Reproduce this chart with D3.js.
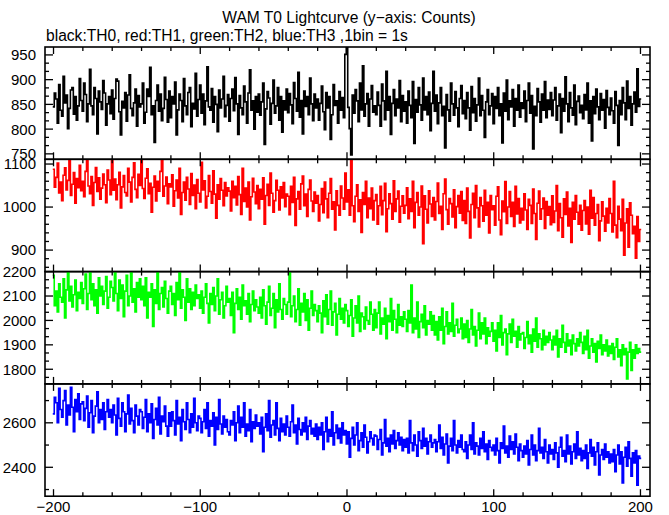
<!DOCTYPE html>
<html><head><meta charset="utf-8">
<script src="https://cdn.jsdelivr.net/npm/d3@7"></script>
<style>
body{margin:0;background:#fff}
svg{display:block}
text{font-family:"Liberation Sans",Arial,Helvetica,sans-serif;font-size:15px;fill:#000}
text.hdr{font-size:15.6px}
</style>
</head><body>
<script>
// ---- data: counts per 1 s bin, x = -200 .. 200 ----
const binStart = -200;
const th0 = [
845,873,861,812,890,838,826,907,853,869,801,842,879,884,830,866,818,847,902,858,
836,893,870,815,851,921,847,829,884,862,790,877,855,840,898,873,808,851,866,831,
879,820,862,901,897,835,788,856,843,874,816,869,910,842,827,853,881,806,868,845,
851,893,812,834,881,866,925,829,847,773,858,889,836,871,817,842,905,860,814,877,
823,866,851,895,788,839,871,858,815,902,847,829,874,884,805,852,841,913,826,860,
889,832,871,809,857,926,845,838,882,814,866,850,795,879,843,861,907,825,848,870,
816,862,881,837,904,851,789,868,843,829,887,855,812,873,920,838,857,800,866,834,
871,828,855,893,769,841,876,863,810,852,899,832,847,884,818,866,794,857,839,881,
833,872,849,811,894,862,836,915,824,858,790,877,846,866,829,903,851,817,871,843,
861,818,852,887,835,799,874,843,866,779,829,890,848,857,812,876,838,864,823,951,
966,844,801,748,869,832,880,857,815,893,839,928,826,851,872,806,861,888,834,847,
829,875,848,806,891,857,819,917,838,866,789,852,880,827,861,843,898,815,868,836,
855,812,877,848,823,896,771,860,834,884,849,818,903,839,866,829,875,797,852,917,
836,869,811,853,884,827,846,762,870,839,816,893,851,828,876,843,805,862,888,831,
858,821,874,843,798,886,833,862,816,849,903,827,868,838,783,855,880,829,847,872,
811,866,842,884,827,851,772,873,836,899,819,857,845,880,806,862,838,889,824,853,
842,877,815,858,893,832,868,760,846,827,882,855,814,871,838,896,823,859,840,874,
827,859,884,818,847,871,793,862,836,906,851,815,874,843,828,889,809,856,867,833,
848,821,870,839,893,812,857,776,866,831,881,845,819,872,838,860,802,878,844,829,
863,837,812,876,848,767,858,829,884,853,819,897,842,866,808,851,875,834,922,846,
861];
const th1 = [
1088,1046,1069,1102,1033,1058,1015,1074,1091,1040,1062,1110,1027,1053,1080,1009,1066,1045,1097,1038,
1060,1024,1083,1115,1049,1031,1071,1004,1057,1092,1036,1068,1018,1044,1077,1052,1010,1086,1063,1029,
1112,1039,1065,1017,1052,1081,998,1047,1073,1034,1026,1090,1058,1012,1069,1103,1041,1022,1076,1050,
1116,1043,1020,1067,1089,1031,1055,988,1046,1072,1014,1060,1037,1083,1114,1025,1049,1070,1008,1054,
1047,1075,1002,1038,1063,1021,1090,983,1034,1058,1016,1069,1042,1006,1078,1027,1051,996,1064,1032,
1012,1104,1040,1061,998,1025,1073,1036,1009,1084,1030,974,1052,1018,1066,1039,1003,1057,1026,1045,
1037,991,1060,1022,1048,1005,1071,1029,983,1090,1013,1044,1000,1058,970,1024,1067,1035,1008,1050,
996,1041,1018,1068,960,1027,1053,1004,1079,1032,988,1015,1062,1039,993,1047,1021,1057,1001,1030,
1025,982,1048,1011,1069,957,1019,1036,995,1054,1072,1003,1030,978,1041,1063,1014,990,1035,1009,
1027,968,1006,1043,987,1058,1019,975,1032,1066,995,1012,947,1038,1004,981,1049,1021,995,1079,
1012,1040,981,1111,1003,966,1025,1052,990,1017,941,1034,1006,1060,975,1021,996,1044,970,1015,
1029,960,1003,1048,982,1015,1055,943,996,1031,1008,972,1061,990,1019,1037,965,1002,1026,986,
1004,1045,973,1019,990,1060,952,1011,1034,981,1000,1049,915,1026,995,963,1038,1007,978,1022,
970,1013,1056,985,1002,948,1031,1065,994,960,1020,1008,977,1040,952,1001,1027,986,1036,969,
1015,962,1044,990,928,1006,1032,975,1050,998,954,1022,1003,967,1039,981,1011,940,1027,994,
1003,958,1025,1047,970,936,1014,989,1059,962,1000,1036,978,1011,955,1048,984,1020,963,997,
970,1031,993,948,1018,1004,962,1042,985,925,1009,1037,972,996,1021,950,1013,981,1001,959,
1026,964,991,1050,945,1008,975,930,1019,983,1035,956,997,918,1011,972,1027,988,960,1004,
946,992,1015,961,1000,937,1039,974,1022,958,985,1006,922,968,1012,979,944,997,963,1020,
985,942,1060,958,929,1002,972,945,1018,888,963,996,907,1010,981,938,955,881,978,920,
948];
const th2 = [
2185,2060,2120,2035,2150,2095,2075,2170,2010,2125,2200,2080,2140,2055,2105,2165,2040,2115,2090,2155,
2070,2130,2190,2045,2110,2205,2085,2150,2060,2125,2030,2175,2100,2140,2065,2120,2180,2050,2095,2160,
2135,2080,2200,2110,2040,2165,2090,2145,2015,2120,2185,2060,2100,2210,2075,2130,2035,2155,2095,2170,
2085,2140,2060,2175,2010,2115,2095,2150,1975,2125,2070,2200,2045,2110,2135,2055,2160,2090,2030,2120,
2140,2065,2110,2020,2155,2085,2205,2050,2125,2095,2000,2170,2075,2130,2045,2115,2060,2145,2090,2105,
2050,2120,2030,2095,2150,2070,1990,2110,2065,2135,2040,2100,2170,2025,2085,2115,2010,2060,2140,2075,
2090,2020,2115,1950,2070,2130,2045,2095,2005,2145,2060,2080,2025,2110,1995,2065,2120,2040,2085,2055,
2030,2095,2010,2125,2060,1985,2075,2140,2020,2050,2110,1970,2085,2035,2150,2045,2005,2090,2065,2025,
2075,2195,2015,2060,2100,1995,2045,2130,1980,2070,2035,2110,2000,2085,1960,2050,2120,2020,2065,2040,
1995,2060,2030,1950,2080,2015,2105,1985,2045,2120,1980,2035,2070,1940,2025,2090,2005,2050,1990,2065,
2040,1975,2020,2085,1935,2010,2060,1990,2100,1955,2030,2015,1965,2055,2000,1985,2075,2025,1960,2045,
1970,2030,2075,1945,2010,1985,2050,1925,2020,1995,2090,1960,2040,2005,1950,2065,1980,2015,1975,2035,
2005,1955,2040,1990,2145,1950,2010,1965,2075,1930,1995,2025,1970,2060,1940,2000,1985,2035,1960,2020,
1940,1995,1920,2015,1960,2050,1905,1975,2035,1945,1990,1955,2070,1935,1980,2005,1950,1965,2010,1925,
1985,1930,2000,1910,1965,2045,1940,1975,1895,1960,2030,1925,1990,1945,2010,1905,1970,1935,1955,1990,
1915,1960,1875,1990,1930,2020,1900,1950,1965,1860,1945,1985,1910,2005,1935,1955,1890,1975,1920,1945,
1950,1885,1930,1995,1905,1940,1870,1965,1915,2010,1890,1945,1925,1880,1960,1900,1935,1910,1950,1920,
1880,1935,1900,1960,1850,1925,1890,1980,1910,1870,1945,1895,1920,1860,1940,1905,1875,1925,1895,1950,
1910,1865,1935,1880,1960,1845,1895,1925,1870,1905,1830,1915,1885,1940,1860,1900,1875,1920,1855,1895,
1865,1905,1840,1890,1925,1850,1880,1815,1900,1860,1885,1760,1870,1910,1795,1880,1845,1900,1865,1885,
1870];
const th3 = [
2640,2715,2690,2600,2755,2660,2625,2700,2745,2590,2680,2635,2760,2670,2560,2705,2650,2730,2615,2685,
2695,2610,2665,2720,2580,2645,2700,2555,2630,2675,2740,2600,2660,2615,2690,2570,2650,2705,2625,2660,
2600,2680,2635,2545,2710,2620,2585,2690,2650,2560,2640,2725,2595,2665,2610,2555,2680,2630,2590,2660,
2650,2575,2625,2705,2560,2640,2600,2685,2530,2615,2665,2590,2715,2550,2630,2605,2675,2585,2540,2645,
2585,2650,2610,2545,2700,2595,2625,2520,2660,2605,2570,2690,2615,2555,2640,2580,2710,2600,2565,2630,
2620,2555,2605,2660,2575,2690,2540,2610,2585,2645,2500,2625,2570,2705,2595,2550,2630,2580,2615,2560,
2545,2610,2590,2650,2520,2600,2675,2555,2625,2580,2690,2540,2595,2565,2660,2515,2605,2575,2635,2585,
2600,2550,2625,2470,2580,2640,2565,2700,2535,2590,2610,2545,2690,2575,2520,2620,2560,2595,2545,2630,
2580,2540,2605,2680,2555,2590,2505,2620,2570,2545,2600,2560,2625,2525,2585,2610,2550,2575,2540,2595,
2525,2580,2545,2600,2480,2560,2625,2515,2570,2540,2650,2500,2555,2590,2530,2575,2510,2600,2545,2565,
2505,2560,2445,2530,2580,2500,2545,2600,2475,2520,2555,2490,2590,2535,2465,2515,2560,2530,2500,2545,
2540,2480,2525,2570,2455,2510,2615,2495,2530,2470,2545,2505,2565,2485,2520,2555,2500,2535,2475,2525,
2490,2530,2465,2610,2510,2475,2545,2500,2450,2560,2520,2485,2575,2495,2530,2460,2515,2545,2490,2510,
2525,2470,2515,2590,2485,2535,2455,2505,2550,2420,2495,2530,2475,2610,2500,2465,2520,2490,2545,2480,
2470,2515,2440,2500,2545,2480,2600,2460,2510,2495,2455,2530,2485,2560,2470,2505,2435,2520,2490,2475,
2500,2455,2530,2475,2420,2510,2485,2585,2465,2495,2445,2540,2480,2515,2460,2550,2490,2430,2505,2475,
2445,2495,2460,2520,2410,2480,2545,2455,2500,2430,2475,2575,2465,2490,2440,2525,2470,2420,2500,2460,
2480,2435,2510,2465,2400,2490,2535,2450,2475,2425,2545,2460,2495,2415,2470,2505,2440,2560,2455,2485,
2430,2475,2440,2500,2395,2465,2525,2450,2490,2410,2470,2510,2365,2455,2480,2435,2505,2445,2470,2420,
2460,2425,2480,2380,2455,2500,2415,2470,2330,2445,2490,2405,2515,2440,2360,2465,2420,2475,2320,2450,
2440];

const xTickValues = [-200,-180,-160,-140,-120,-100,-80,-60,-40,-20,0,20,40,60,80,100,120,140,160,180,200];
const xTickLabels = [-200,-100,0,100,200];
const yLabels0 = [750,800,850,900,950];
const yLabels1 = [900,1000,1100];
const yLabels2 = [1800,1900,2000,2100,2200];
const yLabels3 = [2400,2600];

const titleText = "WAM T0 Lightcurve (y\u2212axis: Counts)";
const subtitleText = "black:TH0, red:TH1, green:TH2, blue:TH3 ,1bin = 1s";

// ---- layout ----
const W = 669, H = 515;
const left = 45, right = 650;
const panelTops = [47, 159.3, 271.6, 383.9];
const panelH = 112.3;

const panels = [
  {data: th0, color: "#000000", domain: [739, 966], labels: yLabels0, minorStep: 50/3, minorFrom: 750},
  {data: th1, color: "#ff0000", domain: [850, 1111], labels: yLabels1, minorStep: 20, minorFrom: 860},
  {data: th2, color: "#00ff00", domain: [1740, 2200], labels: yLabels2, minorStep: 100/3, minorFrom: 1800},
  {data: th3, color: "#0000ff", domain: [2270, 2775], labels: yLabels3, minorStep: 100, minorFrom: 2300}
];

const svg = d3.select("body").append("svg").attr("width", W).attr("height", H);
const x = d3.scaleLinear().domain([-205.8, 206.5]).range([left, right]);
const fmt = v => (v < 0 ? "\u2212" + Math.abs(v) : String(v));

svg.append("text").attr("class", "hdr").attr("x", 349).attr("y", 23).attr("text-anchor", "middle").text(titleText);
svg.append("text").attr("class", "hdr").attr("x", 46).attr("y", 41).text(subtitleText);

panels.forEach((p, i) => {
  const top = panelTops[i], bot = top + panelH;
  const y = d3.scaleLinear().domain(p.domain).range([bot, top]);
  const g = svg.append("g");
  const clipId = "clip" + i;
  svg.append("clipPath").attr("id", clipId).append("rect")
    .attr("x", left).attr("y", top).attr("width", right - left).attr("height", panelH);

  // step line, bins centred on integer seconds
  const pts = p.data.map((v, k) => [binStart + k - 0.5, v]);
  pts.push([binStart + p.data.length - 0.5, p.data[p.data.length - 1]]);
  const line = d3.line().x(d => x(d[0])).y(d => y(d[1])).curve(d3.curveStepAfter);
  g.append("path").attr("d", line(pts)).attr("fill", "none")
    .attr("stroke", p.color).attr("stroke-width", 1.6)
    .attr("clip-path", `url(#${clipId})`);

  // frame
  g.append("rect").attr("x", left).attr("y", top).attr("width", right - left).attr("height", panelH)
    .attr("fill", "none").attr("stroke", "#000").attr("stroke-width", 1.6);

  // x ticks top & bottom
  xTickValues.forEach(t => {
    const len = (t % 100 === 0) ? 7 : 4;
    const xx = x(t);
    g.append("line").attr("x1", xx).attr("x2", xx).attr("y1", top).attr("y2", top + len)
      .attr("stroke", "#000").attr("stroke-width", 1.3);
    g.append("line").attr("x1", xx).attr("x2", xx).attr("y1", bot).attr("y2", bot - len)
      .attr("stroke", "#000").attr("stroke-width", 1.3);
  });

  // y ticks
  const [d0, d1] = p.domain;
  const minors = [];
  for (let v = p.minorFrom; v <= d1 + 0.01; v += p.minorStep) minors.push(v);
  for (let v = p.minorFrom - p.minorStep; v >= d0 - 0.01; v -= p.minorStep) minors.push(v);
  minors.forEach(v => {
    const isMajor = p.labels.some(l => Math.abs(l - v) < 0.5);
    const len = isMajor ? 8 : 4;
    const yy = y(v);
    g.append("line").attr("x1", left).attr("x2", left + len).attr("y1", yy).attr("y2", yy)
      .attr("stroke", "#000").attr("stroke-width", 1.3);
    g.append("line").attr("x1", right).attr("x2", right - len).attr("y1", yy).attr("y2", yy)
      .attr("stroke", "#000").attr("stroke-width", 1.3);
  });

  // y labels
  p.labels.forEach(v => {
    g.append("text").attr("x", 36).attr("y", y(v)).attr("dy", "0.36em")
      .attr("text-anchor", "end").text(v);
  });

  if (i === panels.length - 1) {
    xTickLabels.forEach(t => {
      g.append("text").attr("x", x(t)).attr("y", 512).attr("text-anchor", "middle").text(fmt(t));
    });
  }
});
</script>
</body></html>
